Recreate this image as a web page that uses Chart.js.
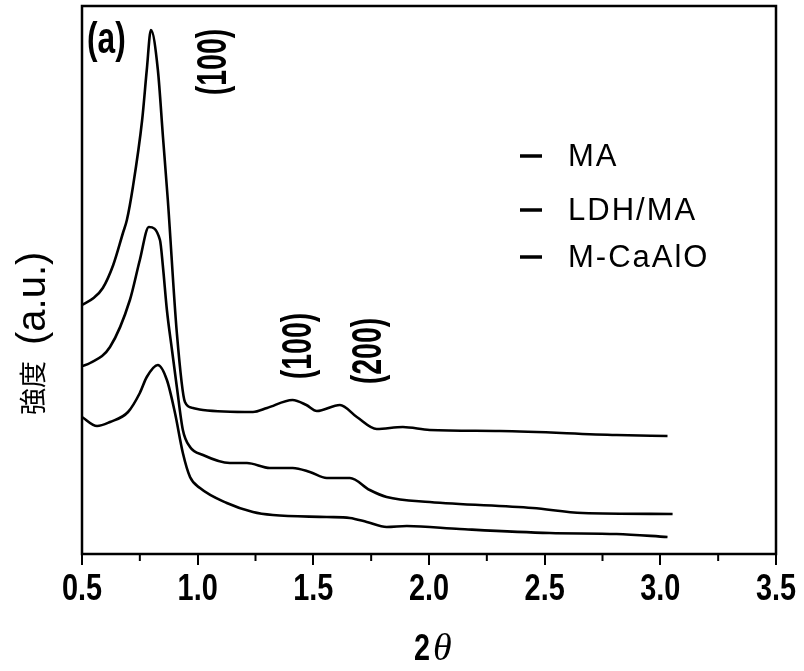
<!DOCTYPE html>
<html>
<head>
<meta charset="utf-8">
<script src="https://cdn.jsdelivr.net/npm/chart.js@4.4.1/dist/chart.umd.min.js"></script>
<style>
  html, body { margin: 0; padding: 0; background: #fff; }
  #wrap { width: 804px; height: 671px; }
</style>
</head>
<body>
<div id="wrap"><canvas id="xrd"></canvas></div>
<script>
// 2-theta positions and intensities (a.u.)
const maX = [0.50, 0.55, 0.59, 0.635, 0.677, 0.694, 0.72, 0.76, 0.78, 0.798, 0.828, 0.85, 0.871, 0.91, 0.945, 0.98, 1.023,
             1.239, 1.30, 1.41, 1.47, 1.515, 1.615, 1.688, 1.774, 1.887, 2.003, 2.306, 2.811, 3.031];
const maY = [249, 256, 266, 289, 321, 334, 367, 434, 484, 524, 484, 417, 354, 221, 152, 146, 144,
             142, 146, 154, 149, 143, 149, 137, 125, 127, 124, 123, 119, 118];

const ldhX = [0.50, 0.535, 0.621, 0.707, 0.75, 0.789, 0.837, 0.85, 0.867, 0.889, 0.91, 0.936, 0.967, 1.023, 1.139,
              1.213, 1.312, 1.411, 1.485, 1.558, 1.658, 1.744, 1.817, 2.003, 2.448, 2.664, 3.053];
const ldhY = [188, 191, 207, 254, 294, 327, 314, 287, 244, 204, 167, 124, 107, 99, 91,
              91, 86, 86, 82, 76, 76, 64, 57, 52, 46, 41, 40];

const caX = [0.50, 0.565, 0.621, 0.699, 0.75, 0.78, 0.828, 0.867, 0.902, 0.936, 0.967, 1.01, 1.126, 1.239,
             1.325, 1.558, 1.658, 1.731, 1.817, 1.904, 2.133, 2.522, 2.811, 3.031];
const caY = [137, 128, 132, 142, 161, 177, 189, 174, 141, 101, 77, 66, 51, 42,
             39, 37, 36, 32, 27, 28, 25, 21, 20, 17];

const seriesNames = ['MA', 'LDH/MA', 'M-CaAlO'];
const xTicks = [0.5, 1.0, 1.5, 2.0, 2.5, 3.0, 3.5];

const toPoints = (xs, ys) => xs.map((x, i) => ({ x: x, y: ys[i] }));

const lineStyle = {
    borderColor: '#000',
    borderWidth: 2.6,
    pointRadius: 0,
    fill: false,
    tension: 0.25,
    cubicInterpolationMode: 'monotone'
};

const SANS = '"Liberation Sans", Arial, sans-serif';

// squeezed text helper (the original figure uses a condensed plotter font)
const squeezed = (ctx, txt, x, y, sx, rot) => {
    ctx.save();
    ctx.translate(x, y);
    if (rot) ctx.rotate(rot);
    ctx.scale(sx, 1);
    ctx.fillText(txt, 0, 0);
    ctx.restore();
};

// frame, ticks, labels and the in-plot legend
const decor = {
    id: 'decor',
    afterDraw(chart) {
        const ctx = chart.ctx;
        const a = chart.chartArea;
        const xs = chart.scales.x;
        ctx.save();
        ctx.strokeStyle = '#000';
        ctx.fillStyle = '#000';
        ctx.lineWidth = 2.5;
        ctx.strokeRect(a.left, a.top, a.right - a.left, a.bottom - a.top);

        // minor ticks
        ctx.lineWidth = 2;
        for (let v = 0.75; v < 3.5; v += 0.5) {
            const px = xs.getPixelForValue(v);
            ctx.beginPath();
            ctx.moveTo(px, a.bottom);
            ctx.lineTo(px, a.bottom + 7);
            ctx.stroke();
        }

        // tick labels
        ctx.font = 'bold 37px ' + SANS;
        ctx.textAlign = 'center';
        ctx.textBaseline = 'alphabetic';
        xTicks.forEach(v => {
            squeezed(ctx, v.toFixed(1), xs.getPixelForValue(v), 600, 0.78);
        });

        // panel tag
        ctx.font = 'bold 44px ' + SANS;
        ctx.textAlign = 'left';
        squeezed(ctx, '(a)', 87, 53, 0.72);

        // rotated peak labels
        ctx.font = 'bold 42px ' + SANS;
        ctx.textAlign = 'center';
        ctx.textBaseline = 'middle';
        squeezed(ctx, '(100)', 214, 62, 0.68, -Math.PI / 2);
        squeezed(ctx, '(100)', 299, 346, 0.68, -Math.PI / 2);
        squeezed(ctx, '(200)', 369, 351, 0.68, -Math.PI / 2);

        // legend
        ctx.font = '31px ' + SANS;
        ctx.textAlign = 'left';
        ctx.textBaseline = 'middle';
        if ('letterSpacing' in ctx) ctx.letterSpacing = '2px';
        const rows = [156, 210, 257];
        seriesNames.forEach((name, i) => {
            ctx.lineWidth = 3.5;
            ctx.beginPath();
            ctx.moveTo(520, rows[i]);
            ctx.lineTo(542, rows[i]);
            ctx.stroke();
            ctx.fillText(name, 568, rows[i] + 1);
        });
        if ('letterSpacing' in ctx) ctx.letterSpacing = '0px';

        // y title
        ctx.save();
        ctx.translate(33, 0);
        ctx.rotate(-Math.PI / 2);
        ctx.textBaseline = 'middle';
        ctx.textAlign = 'left';
        ctx.font = '27px "Noto Sans CJK JP", "Noto Sans CJK SC", sans-serif';
        ctx.fillText('強度', -415, 0);
        ctx.font = '40px ' + SANS;
        ctx.fillText('(a.u.)', -345, 1);
        ctx.restore();

        // x title
        ctx.font = 'bold 36px ' + SANS;
        ctx.textBaseline = 'alphabetic';
        ctx.textAlign = 'left';
        squeezed(ctx, '2', 414, 660, 0.8);
        ctx.font = 'italic 38px "Liberation Serif", serif';
        ctx.fillText('\u03B8', 433, 660);
        ctx.restore();
    }
};

new Chart(document.getElementById('xrd'), {
    type: 'line',
    data: {
        datasets: [
            { label: seriesNames[0], data: toPoints(maX, maY), ...lineStyle },
            { label: seriesNames[1], data: toPoints(ldhX, ldhY), ...lineStyle },
            { label: seriesNames[2], data: toPoints(caX, caY), ...lineStyle }
        ]
    },
    options: {
        responsive: true,
        maintainAspectRatio: false,
        animation: false,
        layout: { padding: { left: 82, right: 28, top: 6, bottom: 0 } },
        plugins: {
            legend: { display: false },
            tooltip: { enabled: false }
        },
        scales: {
            x: {
                type: 'linear',
                min: 0.5,
                max: 3.5,
                afterBuildTicks: (scale) => { scale.ticks = xTicks.map(v => ({ value: v })); },
                afterFit: (scale) => { scale.height = 117; },
                border: { display: false },
                grid: { drawOnChartArea: false, drawTicks: true, tickLength: 11, color: '#000', lineWidth: 2 },
                ticks: { display: false }
            },
            y: {
                min: 0,
                max: 548,
                afterFit: (scale) => { scale.width = 0; },
                border: { display: false },
                grid: { display: false },
                ticks: { display: false }
            }
        }
    },
    plugins: [decor]
});
</script>
</body>
</html>
